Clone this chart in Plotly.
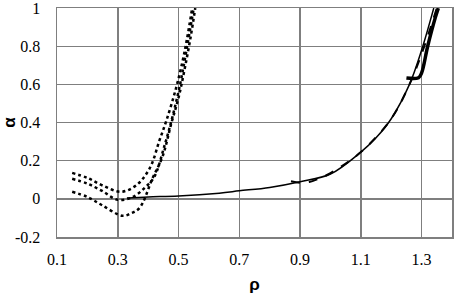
import plotly.graph_objects as go

# Dotted curves (three)
dot_a_x = [0.15, 0.2, 0.25, 0.31, 0.36, 0.405, 0.438, 0.46, 0.49, 0.513, 0.528, 0.545]
dot_a_y = [0.136, 0.11, 0.07, 0.037, 0.07, 0.16, 0.31, 0.41, 0.57, 0.72, 0.84, 1.0]
dot_b_x = [0.15, 0.2, 0.25, 0.30, 0.35, 0.39, 0.42, 0.454, 0.48, 0.505, 0.525, 0.55]
dot_b_y = [0.105, 0.08, 0.04, -0.005, 0.01, 0.06, 0.115, 0.28, 0.43, 0.6, 0.77, 1.0]
dot_c_x = [0.15, 0.2, 0.25, 0.316, 0.345, 0.372, 0.415, 0.447, 0.477, 0.5, 0.52, 0.54, 0.555]
dot_c_y = [0.037, 0.01, -0.035, -0.089, -0.075, -0.047, 0.11, 0.22, 0.4, 0.53, 0.68, 0.85, 1.0]

# Solid thin curve
solid_x = [0.33, 0.4, 0.5, 0.634, 0.7, 0.8, 0.9, 1.0, 1.1, 1.15, 1.2, 1.26, 1.3, 1.34]
solid_y = [0.005, 0.01, 0.015, 0.03, 0.042, 0.06, 0.09, 0.13, 0.245, 0.32, 0.42, 0.6, 0.78, 1.0]

# Dashed curve
dash_x = [0.87, 0.9, 0.93, 0.96, 1.0, 1.1, 1.2, 1.26, 1.3, 1.35]
dash_y = [0.092, 0.085, 0.088, 0.105, 0.135, 0.245, 0.42, 0.6, 0.76, 1.0]

# Thick curve
thick_x = [1.25, 1.29, 1.30, 1.32, 1.345, 1.355]
thick_y = [0.633, 0.635, 0.66, 0.8, 0.95, 1.0]

x_tickvals = [0.1, 0.3, 0.5, 0.7, 0.9, 1.1, 1.3]
x_ticktext = ["0.1", "0.3", "0.5", "0.7", "0.9", "1.1", "1.3"]
y_tickvals = [-0.2, 0, 0.2, 0.4, 0.6, 0.8, 1]
y_ticktext = ["-0.2", "0", "0.2", "0.4", "0.6", "0.8", "1"]

fig = go.Figure()
for xs, ys in [(dot_a_x, dot_a_y), (dot_b_x, dot_b_y), (dot_c_x, dot_c_y)]:
    fig.add_trace(go.Scatter(x=xs, y=ys, mode="lines", line=dict(color="black", width=2.5, dash="dot", shape="spline"), showlegend=False))
fig.add_trace(go.Scatter(x=solid_x, y=solid_y, mode="lines", line=dict(color="black", width=1.5, shape="spline"), showlegend=False))
fig.add_trace(go.Scatter(x=dash_x, y=dash_y, mode="lines", line=dict(color="black", width=2, dash="dash", shape="spline"), showlegend=False))
fig.add_trace(go.Scatter(x=thick_x, y=thick_y, mode="lines", line=dict(color="black", width=3.5, shape="spline"), showlegend=False))

grid = "#7f7f7f"
serif = "Liberation Serif"
sans = "Liberation Sans"
fig.update_layout(
    width=454, height=299,
    margin=dict(l=57, r=2, t=8, b=62),
    paper_bgcolor="white", plot_bgcolor="white",
    font=dict(family=serif, size=16, color="black"),
    xaxis=dict(range=[0.1, 1.4], tickvals=x_tickvals, ticktext=x_ticktext,
               tickfont=dict(family=serif, size=16, color="black"),
               showgrid=True, gridcolor=grid, gridwidth=1.5, zeroline=False,
               showline=True, linecolor=grid, linewidth=1.5, mirror=True,
               ticks="", ticklabelstandoff=7, automargin=False,
               title=dict(text="<b>ρ</b>", font=dict(family=sans, size=17, color="black"), standoff=11)),
    yaxis=dict(range=[-0.2, 1.0005], tickvals=y_tickvals, ticktext=y_ticktext,
               tickfont=dict(family=serif, size=16, color="black"),
               showgrid=True, gridcolor=grid, gridwidth=1.5, zeroline=False,
               showline=True, linecolor=grid, linewidth=1.5, mirror=True,
               ticks="", ticklabelstandoff=12, automargin=False, ticklabeloverflow="allow",
               title=dict(text="<b>α</b>", font=dict(family=sans, size=17, color="black"), standoff=4)),
)
fig.write_html("out.html", config={"displayModeBar": False, "staticPlot": True},
               post_script="document.body.style.margin='0';document.body.style.padding='0';")
